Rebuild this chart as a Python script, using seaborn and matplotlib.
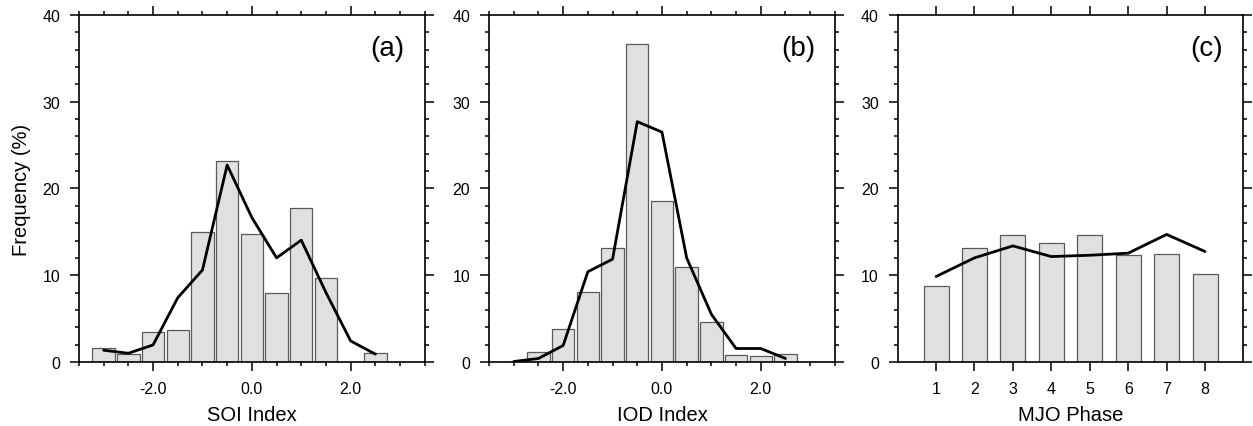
import numpy as np
import pandas as pd
import matplotlib
matplotlib.use("Agg")
import matplotlib.pyplot as plt
from matplotlib.ticker import MultipleLocator, FixedLocator
import seaborn as sns

# bin centres for the index histograms
idx_bins = [-3.0, -2.5, -2.0, -1.5, -1.0, -0.5, 0.0, 0.5, 1.0, 1.5, 2.0, 2.5]

# (a) SOI
soi_bars = [1.65, 0.96, 3.46, 3.73, 14.96, 23.2, 14.7, 7.9, 17.8, 9.7, 0.0, 1.08]
soi_line = [1.35, 1.0, 1.96, 7.4, 10.6, 22.7, 16.65, 12.0, 14.04, 8.0, 2.42, 0.9]

# (b) IOD
iod_bars = [0.0, 1.15, 3.8, 8.1, 13.15, 36.6, 18.6, 10.9, 4.6, 0.85, 0.65, 0.96]
iod_line = [0.05, 0.4, 1.9, 10.4, 11.85, 27.7, 26.5, 12.0, 5.5, 1.55, 1.55, 0.4]

# (c) MJO
mjo_phase = [1, 2, 3, 4, 5, 6, 7, 8]
mjo_bars = [8.77, 13.15, 14.65, 13.73, 14.65, 12.38, 12.42, 10.15]
mjo_line = [9.85, 12.0, 13.38, 12.15, 12.3, 12.54, 14.7, 12.73]

panel_tags = ["(a)", "(b)", "(c)"]
x_labels = ["SOI Index", "IOD Index", "MJO Phase"]

sns.set_theme(style="ticks")
plt.rcParams["font.family"] = ["Liberation Sans", "DejaVu Sans"]
plt.rcParams["text.color"] = "black"
plt.rcParams["axes.labelcolor"] = "black"

fig = plt.figure(figsize=(12.53, 4.27), dpi=100)
lefts = [0.0630, 0.3903, 0.7164]
axes = [fig.add_axes([l, 0.150, 0.2760, 0.8126]) for l in lefts]

datasets = [
    (idx_bins, soi_bars, soi_line, 0.91),
    (idx_bins, iod_bars, iod_line, 0.91),
    (mjo_phase, mjo_bars, mjo_line, 0.65),
]

for i, (ax, (xs, bars, line, w)) in enumerate(zip(axes, datasets)):
    df = pd.DataFrame({"x": xs, "bar": bars, "line": line})
    sns.barplot(data=df, x="x", y="bar", native_scale=True, width=w,
                color="#e0e0e0", saturation=1, edgecolor="#5a5a5a",
                linewidth=0.9, ax=ax)
    sns.lineplot(data=df, x="x", y="line", color="black", lw=2.0, ax=ax)

    ax.set_ylim(0, 40)
    ax.yaxis.set_major_locator(MultipleLocator(10))
    ax.yaxis.set_minor_locator(MultipleLocator(2))
    if i < 2:
        ax.set_xlim(-3.5, 3.5)
        ax.xaxis.set_major_locator(FixedLocator([-2, 0, 2]))
        ax.set_xticklabels(["-2.0", "0.0", "2.0"])
        ax.xaxis.set_minor_locator(MultipleLocator(0.5))
    else:
        ax.set_xlim(0, 9)
        ax.xaxis.set_major_locator(FixedLocator(mjo_phase))
        ax.set_xticklabels([str(p) for p in mjo_phase])
        ax.xaxis.set_minor_locator(FixedLocator([]))

    ax.tick_params(which="both", direction="out", top=True, right=True,
                   labeltop=False, labelright=False, width=1.1,
                   colors="black", labelsize=11.5)
    ax.tick_params(which="major", length=6.5, pad=7)
    ax.tick_params(which="minor", length=3)
    for s in ax.spines.values():
        s.set_visible(True)
        s.set_linewidth(1.2)
        s.set_color("black")

    ax.set_xlabel(x_labels[i], fontsize=14.5, labelpad=7)
    ax.set_ylabel("Frequency (%)" if i == 0 else "", fontsize=14.5, labelpad=8)
    ax.text(0.893, 0.905, panel_tags[i], transform=ax.transAxes,
            ha="center", va="center", fontsize=20, color="black")

fig.savefig("out.png", dpi=100)
